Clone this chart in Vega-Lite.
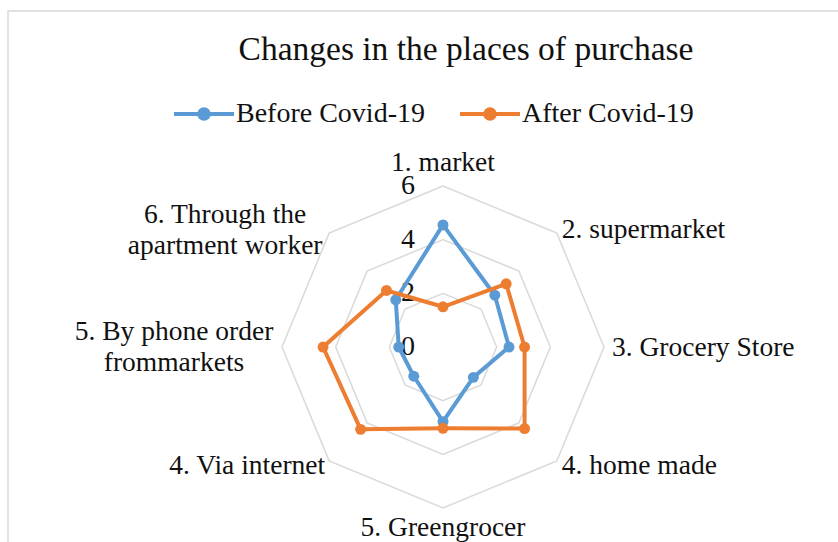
{
  "$schema": "https://vega.github.io/schema/vega-lite/v6.json",
  "width": 840,
  "height": 540,
  "autosize": "none",
  "padding": {"left": 8, "top": 11, "right": 0, "bottom": 0},
  "background": "white",
  "config": {
    "view": {"stroke": "#D9D9D9", "strokeWidth": 1.5},
    "font": "Liberation Serif"
  },
  "title": {
    "text": "Changes in the places of purchase",
    "font": "Liberation Serif",
    "fontSize": 33.5,
    "fontWeight": "normal",
    "color": "#111111",
    "anchor": "middle",
    "dx": 38,
    "offset": -72,
    "baseline": "middle"
  },
  "datasets": {
    "main": [
      {"series": "Before Covid-19", "category": "1. market", "idx": 0, "value": 4.55},
      {"series": "Before Covid-19", "category": "2. supermarket", "idx": 1, "value": 2.73},
      {"series": "Before Covid-19", "category": "3. Grocery Store", "idx": 2, "value": 2.46},
      {"series": "Before Covid-19", "category": "4. home made", "idx": 3, "value": 1.6},
      {"series": "Before Covid-19", "category": "5. Greengrocer", "idx": 4, "value": 2.78},
      {"series": "Before Covid-19", "category": "4. Via internet", "idx": 5, "value": 1.54},
      {"series": "Before Covid-19", "category": "5. By phone order frommarkets", "idx": 6, "value": 1.65},
      {"series": "Before Covid-19", "category": "6. Through the apartment worker", "idx": 7, "value": 2.49},
      {"series": "Before Covid-19", "category": "1. market", "idx": 8, "value": 4.55},
      {"series": "After Covid-19", "category": "1. market", "idx": 0, "value": 1.5},
      {"series": "After Covid-19", "category": "2. supermarket", "idx": 1, "value": 3.33},
      {"series": "After Covid-19", "category": "3. Grocery Store", "idx": 2, "value": 3.04},
      {"series": "After Covid-19", "category": "4. home made", "idx": 3, "value": 4.3},
      {"series": "After Covid-19", "category": "5. Greengrocer", "idx": 4, "value": 3.03},
      {"series": "After Covid-19", "category": "4. Via internet", "idx": 5, "value": 4.34},
      {"series": "After Covid-19", "category": "5. By phone order frommarkets", "idx": 6, "value": 4.47},
      {"series": "After Covid-19", "category": "6. Through the apartment worker", "idx": 7, "value": 2.98},
      {"series": "After Covid-19", "category": "1. market", "idx": 8, "value": 1.5}
    ],
    "grid": [
      {"ring": 2, "idx": [0, 1, 2, 3, 4, 5, 6, 7, 8]},
      {"ring": 4, "idx": [0, 1, 2, 3, 4, 5, 6, 7, 8]},
      {"ring": 6, "idx": [0, 1, 2, 3, 4, 5, 6, 7, 8]}
    ],
    "ticks": [
      {"value": 0, "label": "0"},
      {"value": 2, "label": "2"},
      {"value": 4, "label": "4"},
      {"value": 6, "label": "6"}
    ],
    "cats": [
      {"idx": 0, "label": "1. market"},
      {"idx": 1, "label": "2. supermarket"},
      {"idx": 2, "label": "3. Grocery Store"},
      {"idx": 3, "label": "4. home made"},
      {"idx": 4, "label": "5. Greengrocer"},
      {"idx": 5, "label": "4. Via internet"},
      {"idx": 6, "label": ["5. By phone order", "frommarkets"]},
      {"idx": 7, "label": ["6. Through the", "apartment worker"]}
    ]
  },
  "encoding": {
    "x": {"field": "x", "type": "quantitative", "axis": null, "scale": {"domain": [-16.211, 15.093], "nice": false, "zero": false}},
    "y": {"field": "y", "type": "quantitative", "axis": null, "scale": {"domain": [-7.602, 12.522], "nice": false, "zero": false}}
  },
  "layer": [
    {
      "data": {"name": "grid"},
      "transform": [
        {"flatten": ["idx"]},
        {"calculate": "datum.ring * sin(datum.idx * PI / 4)", "as": "x"},
        {"calculate": "datum.ring * cos(datum.idx * PI / 4)", "as": "y"}
      ],
      "mark": {"type": "line", "color": "#D9D9D9", "strokeWidth": 1.5},
      "encoding": {
        "detail": {"field": "ring", "type": "nominal"},
        "order": {"field": "idx", "type": "quantitative"}
      }
    },
    {
      "data": {"name": "ticks"},
      "transform": [
        {"calculate": "0", "as": "x"},
        {"calculate": "datum.value", "as": "y"}
      ],
      "mark": {"type": "text", "align": "right", "baseline": "middle", "dx": -28, "fontSize": 28, "font": "Liberation Serif", "color": "#111111"},
      "encoding": {"text": {"field": "label"}}
    },
    {
      "data": {"name": "cats"},
      "transform": [
        {"calculate": "6 * sin(datum.idx * PI / 4)", "as": "x"},
        {"calculate": "6 * cos(datum.idx * PI / 4)", "as": "y"}
      ],
      "mark": {
        "type": "text",
        "font": "Liberation Serif",
        "fontSize": 27.5,
        "color": "#111111",
        "baseline": "middle",
        "lineHeight": 31,
        "align": {"expr": "datum.idx == 0 || datum.idx == 4 || datum.idx >= 6 ? 'center' : (datum.idx < 4 ? 'left' : 'right')"},
        "dx": {"expr": "[0, 5, 8, 5, 0, -4, -108, -104][datum.idx]"},
        "dy": {"expr": "[-23, -3, 1, 5, 20, 5, -15, -18][datum.idx]"}
      },
      "encoding": {"text": {"field": "label"}}
    },
    {
      "data": {"name": "main"},
      "transform": [
        {"filter": "datum.series == 'Before Covid-19'"},
        {"calculate": "datum.value * sin(datum.idx * PI / 4)", "as": "x"},
        {"calculate": "datum.value * cos(datum.idx * PI / 4)", "as": "y"}
      ],
      "mark": {"type": "line", "strokeWidth": 4, "strokeJoin": "round"},
      "encoding": {
        "order": {"field": "idx", "type": "quantitative"},
        "color": {
          "field": "series", "type": "nominal",
          "scale": {"domain": ["Before Covid-19", "After Covid-19"], "range": ["#5B9BD5", "#ED7D31"]},
          "legend": {
            "orient": "none", "legendX": 164, "legendY": 71,
            "direction": "horizontal", "title": null,
            "symbolType": "M-1,0H1M-0.16,0A0.16,0.16,0,1,0,0.16,0A0.16,0.16,0,1,0,-0.16,0",
            "symbolSize": 3600, "symbolStrokeWidth": 4,
            "labelFont": "Liberation Serif", "labelFontSize": 28, "labelColor": "#111111",
            "labelOffset": 0, "columnPadding": 27, "padding": 0, "symbolOffset": 0, "labelLimit": 400,
            "encode": {"symbols": {"update": {"fill": {"scale": "color", "field": "value"}, "stroke": {"scale": "color", "field": "value"}, "opacity": {"value": 1}}}}
          }
        }
      }
    },
    {
      "data": {"name": "main"},
      "transform": [
        {"filter": "datum.series == 'Before Covid-19' && datum.idx < 8"},
        {"calculate": "datum.value * sin(datum.idx * PI / 4)", "as": "x"},
        {"calculate": "datum.value * cos(datum.idx * PI / 4)", "as": "y"}
      ],
      "mark": {"type": "circle", "size": 120, "opacity": 1, "color": "#5B9BD5"}
    },
    {
      "data": {"name": "main"},
      "transform": [
        {"filter": "datum.series == 'After Covid-19'"},
        {"calculate": "datum.value * sin(datum.idx * PI / 4)", "as": "x"},
        {"calculate": "datum.value * cos(datum.idx * PI / 4)", "as": "y"}
      ],
      "mark": {"type": "line", "strokeWidth": 4, "strokeJoin": "round"},
      "encoding": {
        "order": {"field": "idx", "type": "quantitative"},
        "color": {"field": "series", "type": "nominal"}
      }
    },
    {
      "data": {"name": "main"},
      "transform": [
        {"filter": "datum.series == 'After Covid-19' && datum.idx < 8"},
        {"calculate": "datum.value * sin(datum.idx * PI / 4)", "as": "x"},
        {"calculate": "datum.value * cos(datum.idx * PI / 4)", "as": "y"}
      ],
      "mark": {"type": "circle", "size": 120, "opacity": 1, "color": "#ED7D31"}
    }
  ]
}
